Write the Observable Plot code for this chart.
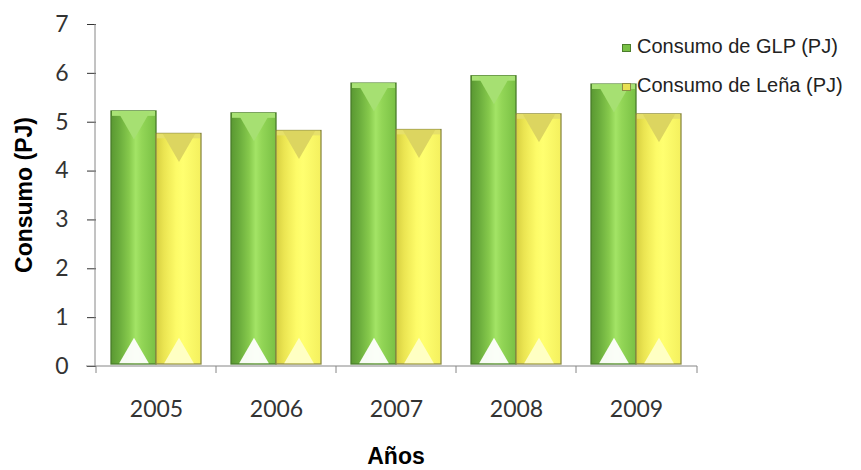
<!DOCTYPE html>
<html><head><meta charset="utf-8">
<script src="https://cdn.jsdelivr.net/npm/d3@7"></script>
<script src="https://cdn.jsdelivr.net/npm/@observablehq/plot@0.6"></script>
<style>
body{margin:0;background:#fff;}
#chart{position:relative;width:861px;height:470px;overflow:hidden;}
#chart svg{display:block;}
.leg{position:absolute;left:622px;font-family:"Liberation Sans",Arial,sans-serif;font-size:20px;color:#222;white-space:nowrap;line-height:1;}
.leg .sw{display:inline-block;width:9px;height:8px;margin-right:6px;vertical-align:1px;box-sizing:border-box;}
[aria-label="y-axis tick"]{stroke:#868686;}
</style></head><body><div id="chart"></div>
<script>
const years = ["2005","2006","2007","2008","2009"];
const series = ["Consumo de GLP (PJ)","Consumo de Leña (PJ)"];
const glp  = [5.22,5.18,5.79,5.94,5.77];
const lena = [4.76,4.82,4.84,5.16,5.16];
const yTicks = [0,1,2,3,4,5,6,7];
const xTitle = "Años";
const yTitle = "Consumo (PJ)";

const data = years.flatMap((yr,i)=>[
  {year:yr, series:series[0], value:glp[i]},
  {year:yr, series:series[1], value:lena[i]}
]);
const gData = data.filter(d=>d.series===series[0]);
const yData = data.filter(d=>d.series===series[1]);

const plot = Plot.plot({
  width:861, height:470,
  marginLeft:95, marginRight:164, marginTop:24, marginBottom:104,
  style:{fontFamily:"Lato, 'Open Sans', sans-serif", fontSize:"23px", color:"#333", background:"#fff", overflow:"visible"},
  fx:{domain:years, padding:0, label:null, tickSize:0, tickPadding:34, axis:"bottom"},
  x:{domain:series, paddingInner:0, paddingOuter:0.31, axis:null},
  y:{domain:[0,7], ticks:yTicks, tickSize:9, tickPadding:19, label:null, tickFormat:d=>String(d)},
  marks:[
    Plot.barY(gData, {fx:"year", x:"series", y:"value", insetBottom:2, fill:"url(#gGreen)", stroke:"#4b7d2b", strokeWidth:1.3}),
    Plot.barY(yData, {fx:"year", x:"series", y:"value", insetBottom:2, fill:"url(#gYellow)", stroke:"#8d8b45", strokeWidth:1.3}),
    // top bevels
    Plot.barY(gData, {fx:"year", x:"series", y1:d=>d.value-0.1, y2:"value", insetLeft:1, insetRight:1, fill:"#a9e275"}),
    Plot.barY(yData, {fx:"year", x:"series", y1:d=>d.value-0.1, y2:"value", insetLeft:1, insetRight:1, fill:"#e6e06a"}),
    Plot.dot(gData, {fx:"year", x:"series", y:d=>d.value-0.19, symbol:"triangle", rotate:180, r:12, fill:"#a6e072"}),
    Plot.dot(yData, {fx:"year", x:"series", y:d=>d.value-0.19, symbol:"triangle", rotate:180, r:12, fill:"#dcd560"}),
    // bottom bevels
    Plot.dot(gData, {fx:"year", x:"series", y:()=>0.24, symbol:"triangle", r:11, fill:"#fff", fillOpacity:0.95}),
    Plot.dot(yData, {fx:"year", x:"series", y:()=>0.24, symbol:"triangle", r:11, fill:"#ffffc8", fillOpacity:0.95})
  ]
});

const svg = d3.select(plot);
const defs = svg.insert("defs", ":first-child");
function grad(id, stops){
  const g = defs.append("linearGradient").attr("id", id).attr("x1","0").attr("x2","1").attr("y1","0").attr("y2","0");
  stops.forEach(([o,c])=>g.append("stop").attr("offset",o).attr("stop-color",c));
}
grad("gGreen", [["0%","#5a9832"],["18%","#6aac3c"],["40%","#86c94c"],["55%","#a3e466"],["68%","#93d657"],["100%","#79c044"]]);
grad("gYellow", [["0%","#d6cf40"],["18%","#ebe552"],["45%","#fdfb68"],["60%","#ffff70"],["100%","#f4f05e"]]);

const fx = plot.scale("fx"), y = plot.scale("y");
const x0 = fx.range[0], x1 = fx.range[1];
const y0 = y.apply(0), yTop = y.apply(7);
const axes = svg.append("g").attr("stroke","#868686").attr("stroke-width",1);
axes.append("line").attr("x1",x0).attr("x2",x0).attr("y1",yTop).attr("y2",y0);
axes.append("line").attr("x1",x0-9).attr("x2",x1).attr("y1",y0).attr("y2",y0);
years.forEach(yr=>{
  const bx = fx.apply(yr);
  axes.append("line").attr("x1",bx).attr("x2",bx).attr("y1",y0).attr("y2",y0+7);
});
axes.append("line").attr("x1",x1).attr("x2",x1).attr("y1",y0).attr("y2",y0+7);

const titles = svg.append("g").attr("font-family","'Liberation Sans',Arial,sans-serif").attr("font-weight","bold").attr("font-size",23).attr("fill","#000");
titles.append("text").attr("x",(x0+x1)/2).attr("y",464).attr("text-anchor","middle").text(xTitle);
titles.append("text").attr("transform",`translate(32,${(y0+yTop)/2}) rotate(-90)`).attr("text-anchor","middle").text(yTitle);

const chart = document.getElementById("chart");
chart.appendChild(plot);
const swatches = [["#78c045","#4b7d2b"],["#e8e052","#8d8b45"]];
series.forEach((s,i)=>{
  const d = document.createElement("div");
  d.className = "leg";
  d.style.top = (36 + i*39) + "px";
  const sw = document.createElement("span");
  sw.className = "sw";
  sw.style.background = swatches[i][0];
  sw.style.border = "1px solid " + swatches[i][1];
  d.appendChild(sw);
  d.appendChild(document.createTextNode(s));
  chart.appendChild(d);
});
</script></body></html>
